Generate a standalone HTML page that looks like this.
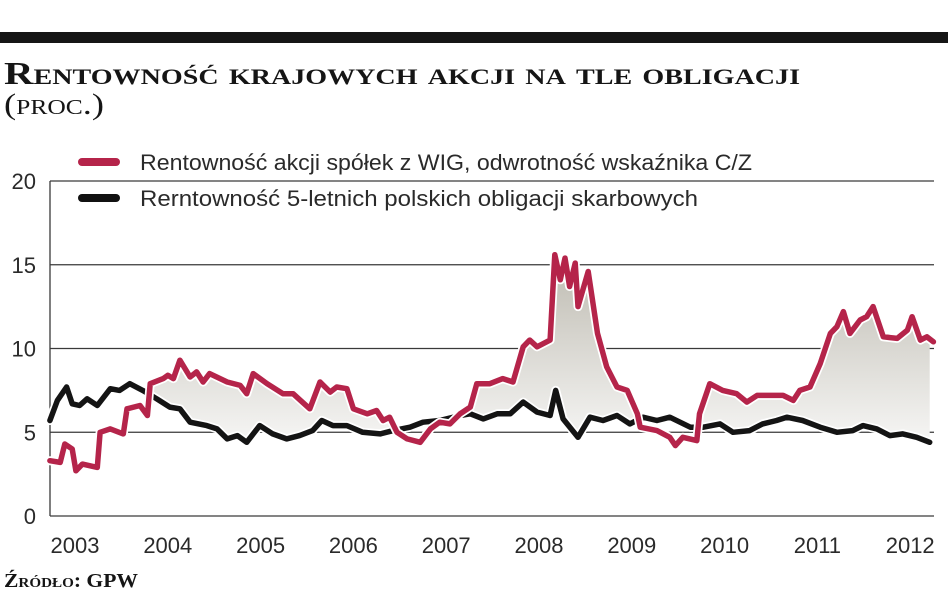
<!DOCTYPE html>
<html><head><meta charset="utf-8"><style>
html,body{margin:0;padding:0;background:#fff;width:948px;height:593px;overflow:hidden}
svg{display:block}
.serif{font-family:"Liberation Serif",serif;font-weight:bold;font-variant:small-caps}
.sans{font-family:"Liberation Sans",sans-serif}
</style></head><body>
<svg id="chart" width="948" height="593" viewBox="0 0 948 593">
<defs><linearGradient id="fillgrad" x1="0" y1="0" x2="0" y2="1">
<stop offset="0" stop-color="#bdbab0"/><stop offset="1" stop-color="#ffffff"/></linearGradient></defs>
<rect x="0" y="32" width="948" height="11" fill="#151515"/>
<text x="4" y="84" class="serif" font-size="32" fill="#151515" textLength="796" lengthAdjust="spacingAndGlyphs">Rentowność krajowych akcji na tle obligacji</text>
<text x="4" y="114" class="serif" font-size="30" fill="#151515" style="font-weight:normal" textLength="100" lengthAdjust="spacingAndGlyphs">(proc.)</text>
<g id="grid"></g>
<g id="plot"></g>
<g>
<line x1="82" y1="162" x2="116" y2="162" stroke="#b5244a" stroke-width="8" stroke-linecap="round"/>
<text x="140" y="170" class="sans" font-size="22" fill="#2a2a2a" textLength="612" lengthAdjust="spacingAndGlyphs">Rentowność akcji spółek z WIG, odwrotność wskaźnika C/Z</text>
<line x1="82" y1="198" x2="116" y2="198" stroke="#111" stroke-width="8" stroke-linecap="round"/>
<text x="140" y="206" class="sans" font-size="22" fill="#2a2a2a" textLength="558" lengthAdjust="spacingAndGlyphs">Rerntowność 5-letnich polskich obligacji skarbowych</text>
</g>
<text x="4" y="587" class="serif" font-size="20" fill="#151515" textLength="134" lengthAdjust="spacingAndGlyphs">Źródło: GPW</text>
</svg>
<script>
const yTicks=[0,5,10,15,20];
const xTickLabels=[2003,2004,2005,2006,2007,2008,2009,2010,2011,2012];
const stockT=[2002.73,2002.84,2002.89,2002.97,2003.01,2003.08,2003.24,2003.27,2003.38,2003.52,2003.56,2003.70,2003.78,2003.81,2003.95,2004.00,2004.06,2004.13,2004.24,2004.31,2004.38,2004.45,2004.64,2004.78,2004.85,2004.92,2005.07,2005.24,2005.35,2005.43,2005.53,2005.64,2005.75,2005.82,2005.93,2006.00,2006.15,2006.25,2006.32,2006.39,2006.47,2006.58,2006.72,2006.83,2006.93,2007.04,2007.15,2007.26,2007.33,2007.47,2007.61,2007.72,2007.83,2007.90,2007.98,2008.12,2008.17,2008.23,2008.28,2008.33,2008.39,2008.42,2008.53,2008.63,2008.73,2008.84,2008.95,2009.06,2009.09,2009.27,2009.41,2009.47,2009.55,2009.70,2009.73,2009.84,2009.98,2010.13,2010.24,2010.35,2010.49,2010.63,2010.74,2010.81,2010.92,2011.03,2011.14,2011.21,2011.28,2011.35,2011.46,2011.53,2011.60,2011.71,2011.86,2011.97,2012.02,2012.11,2012.18,2012.25];
const stockV=[3.3,3.2,4.3,4.0,2.7,3.1,2.9,5.0,5.2,4.9,6.4,6.6,6.0,7.9,8.2,8.4,8.2,9.3,8.3,8.6,8.0,8.5,8.0,7.8,7.3,8.5,7.9,7.3,7.3,6.9,6.4,8.0,7.4,7.7,7.6,6.4,6.1,6.3,5.7,5.9,5.0,4.6,4.4,5.2,5.6,5.5,6.1,6.5,7.9,7.9,8.2,8.0,10.1,10.5,10.1,10.5,15.6,14.1,15.4,13.7,15.1,12.5,14.6,10.9,8.9,7.7,7.5,6.1,5.3,5.1,4.7,4.2,4.7,4.5,6.1,7.9,7.5,7.3,6.8,7.2,7.2,7.2,6.9,7.5,7.7,9.1,10.9,11.3,12.2,10.9,11.7,11.9,12.5,10.7,10.6,11.1,11.9,10.5,10.7,10.4];
const bondT=[2002.73,2002.81,2002.91,2002.97,2003.05,2003.13,2003.24,2003.38,2003.48,2003.59,2003.73,2003.88,2004.02,2004.13,2004.24,2004.42,2004.53,2004.64,2004.75,2004.85,2004.99,2005.13,2005.28,2005.42,2005.56,2005.66,2005.78,2005.93,2006.10,2006.29,2006.43,2006.61,2006.75,2006.93,2007.15,2007.26,2007.40,2007.55,2007.69,2007.83,2007.98,2008.12,2008.18,2008.26,2008.42,2008.55,2008.69,2008.84,2008.98,2009.12,2009.27,2009.41,2009.63,2009.77,2009.95,2010.09,2010.27,2010.41,2010.56,2010.67,2010.84,2011.03,2011.21,2011.38,2011.49,2011.64,2011.78,2011.92,2012.07,2012.21];
const bondV=[5.7,6.9,7.7,6.7,6.6,7.0,6.6,7.6,7.5,7.9,7.5,7.0,6.5,6.4,5.6,5.4,5.2,4.6,4.8,4.4,5.4,4.9,4.6,4.8,5.1,5.7,5.4,5.4,5.0,4.9,5.1,5.3,5.6,5.7,6.0,6.1,5.8,6.1,6.1,6.8,6.2,6.0,7.5,5.8,4.7,5.9,5.7,6.0,5.5,5.9,5.7,5.9,5.3,5.3,5.5,5.0,5.1,5.5,5.7,5.9,5.7,5.3,5.0,5.1,5.4,5.2,4.8,4.9,4.7,4.4];

const NS='http://www.w3.org/2000/svg';
const X0=50,X1=934,Y0=516,Y20=181;
function xs(t){return 75+(t-2003)*92.8;}
function ys(v){return Y0-(v/20)*(Y0-Y20);}
function mk(tag,attrs,parent){const e=document.createElementNS(NS,tag);for(const k in attrs)e.setAttribute(k,attrs[k]);parent.appendChild(e);return e;}
function interp(T,V,t){if(t<=T[0])return V[0];for(let i=1;i<T.length;i++){if(t<=T[i]){const f=(t-T[i-1])/(T[i]-T[i-1]);return V[i-1]+f*(V[i]-V[i-1]);}}return V[V.length-1];}
const gridG=document.getElementById('grid');
const plotG=document.getElementById('plot');
yTicks.forEach(v=>{
  const l=mk('line',{x1:X0,x2:X1,y1:ys(v),y2:ys(v),stroke:'#3a3a3a','stroke-width':1.3},gridG);
  
  
  const t=mk('text',{x:36,y:ys(v)+8,'text-anchor':'end','font-size':22,fill:'#2a2a2a','class':'sans'},gridG);
  t.textContent=v;
  
  
});
const ax=mk('line',{x1:X0,x2:X0,y1:Y20,y2:Y0,stroke:'#3a3a3a','stroke-width':1.3},gridG);


xTickLabels.forEach(y=>{
  const t=mk('text',{x:xs(y),y:553,'text-anchor':'middle','font-size':22,fill:'#2a2a2a','class':'sans'},gridG);
  t.textContent=y;
  
  
});
const tStart=Math.max(stockT[0],bondT[0]),tEnd=Math.min(stockT[stockT.length-1],bondT[bondT.length-1]);
const topPts=[],botPts=[];
const allT=[...new Set(stockT.concat(bondT))].filter(t=>t>=tStart&&t<=tEnd).sort((a,b)=>a-b);
allT.forEach(t=>{const r=interp(stockT,stockV,t),b=interp(bondT,bondV,t);topPts.push([xs(t),ys(r)]);botPts.push([xs(t),ys(Math.min(r,b))]);});
const polyPts=topPts.concat(botPts.reverse()).map(p=>p[0].toFixed(1)+','+p[1].toFixed(1)).join(' ');
const fa=mk('polygon',{points:polyPts,fill:'url(#fillgrad)'},plotG);


function drawLine(T,V,color,name){
  const pts=T.map((t,i)=>xs(t).toFixed(1)+','+ys(V[i]).toFixed(1)).join(' ');
  const halo=mk('polyline',{points:pts,fill:'none',stroke:'#fff','stroke-width':9,'stroke-linejoin':'round','stroke-linecap':'round'},plotG);
  
  
  const p=mk('polyline',{points:pts,fill:'none',stroke:color,'stroke-width':5.5,'stroke-linejoin':'round','stroke-linecap':'round'},plotG);
  
  
}
drawLine(bondT,bondV,'#141414','bond-yield-line');
drawLine(stockT,stockV,'#b5244a','stock-yield-line');
</script>
</body></html>
